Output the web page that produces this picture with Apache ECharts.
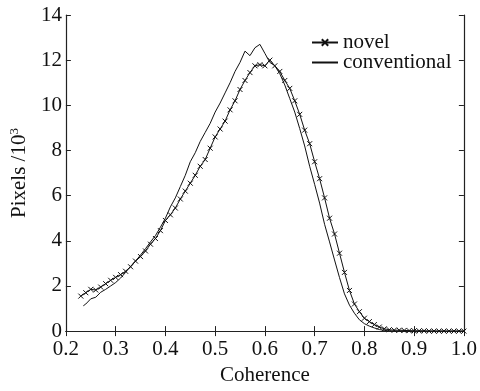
<!DOCTYPE html>
<html><head><meta charset="utf-8">
<script src="https://cdn.jsdelivr.net/npm/echarts@6/dist/echarts.min.js"></script>
<style>html,body{margin:0;padding:0;background:#fff}#c{width:480px;height:391px}</style>
</head><body><div id="c"></div>
<script>
const xTicks = ['0.2','0.3','0.4','0.5','0.6','0.7','0.8','0.9','1.0'];
const yTicks = ['0','2','4','6','8','10','12','14'];
const novelX = [0.23,0.24,0.25,0.26,0.27,0.28,0.29,0.30,0.31,0.32,0.33,0.34,0.35,0.36,0.37,0.38,0.39,0.40,0.41,0.42,0.43,0.44,0.45,0.46,0.47,0.48,0.49,0.50,0.51,0.52,0.53,0.54,0.55,0.56,0.57,0.58,0.59,0.60,0.61,0.62,0.63,0.64,0.65,0.66,0.67,0.68,0.69,0.70,0.71,0.72,0.73,0.74,0.75,0.76,0.77,0.78,0.79,0.80,0.81,0.82,0.83,0.84,0.85,0.86,0.87,0.88,0.89,0.90,0.91,0.92,0.93,0.94,0.95,0.96,0.97,0.98,0.99,1.00];
const novelY = [1.55,1.7,1.85,1.82,1.95,2.1,2.25,2.38,2.5,2.65,2.85,3.1,3.3,3.55,3.85,4.1,4.45,4.9,5.15,5.45,5.85,6.2,6.55,6.9,7.3,7.6,8.1,8.6,8.95,9.3,9.8,10.2,10.7,11.1,11.45,11.75,11.8,11.75,12.0,11.75,11.5,11.1,10.75,10.2,9.6,8.9,8.3,7.5,6.75,5.9,5.0,4.3,3.45,2.6,1.8,1.2,0.86,0.57,0.42,0.29,0.18,0.1,0.06,0.04,0.04,0.03,0.02,0.01,0.01,0.01,0,0,0,0,0,0,0,0];
const convX = [0.235,0.24,0.25,0.26,0.27,0.28,0.29,0.30,0.31,0.32,0.33,0.34,0.35,0.36,0.37,0.38,0.39,0.40,0.41,0.42,0.43,0.44,0.45,0.46,0.47,0.48,0.49,0.50,0.51,0.52,0.53,0.54,0.55,0.56,0.57,0.58,0.59,0.60,0.61,0.62,0.63,0.64,0.65,0.66,0.67,0.68,0.69,0.70,0.71,0.72,0.73,0.74,0.75,0.76,0.77,0.78,0.79,0.80,0.81,0.82,0.83,0.84,0.85,0.86,1.00];
const convY = [1.12,1.2,1.43,1.5,1.72,1.85,2.0,2.15,2.35,2.6,2.87,3.1,3.37,3.65,3.95,4.23,4.6,5.0,5.5,5.9,6.4,6.9,7.5,7.9,8.4,8.8,9.2,9.7,10.1,10.55,11.0,11.5,11.9,12.4,12.2,12.55,12.7,12.3,11.9,11.75,11.4,10.9,10.3,9.7,8.97,8.2,7.3,6.5,5.67,4.73,3.95,3.15,2.37,1.65,1.15,0.79,0.5,0.33,0.22,0.14,0.07,0.03,0.01,0,0];

const FONT = '"Liberation Serif", serif';
const axisCommon = {
  axisLine:{show:true,lineStyle:{color:'#222',width:1.2}},
  axisTick:{show:true,inside:true,length:5,lineStyle:{color:'#222',width:1}},
  splitLine:{show:false}
};
const chart = echarts.init(document.getElementById('c'));
chart.setOption({
  animation:false,
  backgroundColor:'#fff',
  grid:{left:61,right:14,top:15,bottom:51},
  legend:{
    orient:'vertical', left:306, top:27, itemGap:-1, itemWidth:26, itemHeight:8,
    textStyle:{fontFamily:FONT,fontSize:21,color:'#111'},
    data:[{name:'novel'},{name:'conventional',itemStyle:{opacity:0}}]
  },
  xAxis:[
    Object.assign({type:'value',min:0.2,max:1.0,interval:0.1,position:'bottom',
      name:'Coherence',nameLocation:'middle',nameGap:30,
      nameTextStyle:{fontFamily:FONT,fontSize:21,color:'#111'},
      axisLabel:{fontFamily:FONT,fontSize:21,color:'#111',margin:8,
        formatter:v=>xTicks[Math.round((v-0.2)*10)]}},axisCommon),
    Object.assign({type:'value',min:0.2,max:1.0,interval:0.1,position:'top',axisLabel:{show:false}},axisCommon)
  ],
  yAxis:[
    Object.assign({type:'value',min:0,max:14,interval:2,position:'left',
      name:'{a|Pixels /10}{b|3}',nameLocation:'middle',nameGap:34,
      nameTextStyle:{rich:{a:{fontFamily:FONT,fontSize:21,color:'#111'},b:{fontFamily:FONT,fontSize:13,color:'#111',verticalAlign:'top',padding:[0,0,10,0]}}},
      axisLabel:{fontFamily:FONT,fontSize:21,color:'#111',margin:4,
        formatter:v=>yTicks[Math.round(v/2)]}},axisCommon),
    Object.assign({type:'value',min:0,max:14,interval:2,position:'right',axisLabel:{show:false}},axisCommon)
  ],
  series:[
    {name:'novel',type:'line',data:novelX.map((x,i)=>[x,novelY[i]]),
      showSymbol:true,symbol:'path://M0,0L10,10M10,0L0,10',symbolSize:5,
      lineStyle:{color:'#111',width:1},
      itemStyle:{color:'none',borderColor:'#111',borderWidth:1}},
    {name:'conventional',type:'line',data:convX.map((x,i)=>[x,convY[i]]),
      showSymbol:false,symbol:'none',
      lineStyle:{color:'#111',width:1},itemStyle:{color:'#111'}}
  ]
});
</script></body></html>
